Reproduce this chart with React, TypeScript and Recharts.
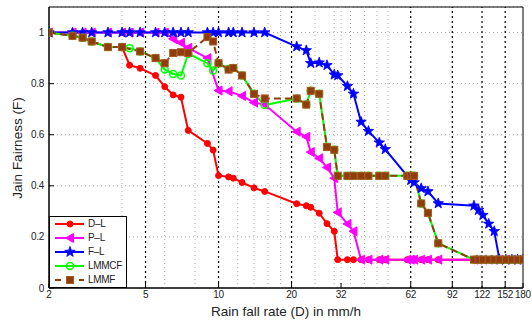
import React from "react";
import { LineChart, Line, XAxis, YAxis, CartesianGrid, ReferenceLine, ReferenceArea } from "recharts";

// rain rates (mm/h) shared by all curves
const rainRate = [
  2, 2.5, 2.75, 3, 3.5, 4, 4.3, 4.75, 5.5, 6, 6.5, 7, 7.5, 9, 9.5, 10, 11, 11.5, 12.5, 14, 15.5,
  21, 23, 24, 26, 28, 30, 31, 34, 36, 38.7, 41.5, 46, 48.7, 60, 62, 64, 68.5, 73, 80.5,
  113, 118, 123, 130, 137, 144, 153, 162, 171, 180,
];

const dlFair = [
  1, 0.987, 0.98, 0.965, 0.943, 0.943, 0.872, 0.86, 0.832, 0.788, 0.756, 0.747, 0.617, 0.566, 0.54, 0.44, 0.435, 0.43, 0.413, 0.392, 0.378,
  0.33, 0.322, 0.316, 0.293, 0.252, 0.222, 0.111, 0.111, 0.111, 0.111, 0.111, 0.111, 0.111, 0.111, 0.111, 0.111, 0.111, 0.111, 0.111,
  0.111, 0.111, 0.111, 0.111, 0.111, 0.111, 0.111, 0.111, 0.111, 0.111,
];

const plFair = [
  1, 1, 1, 1, 1, 1, 1, 1, 1, 1, 0.975, 0.96, 0.94, 0.9, null, 0.773, 0.77, null, 0.752, 0.726, 0.718,
  0.612, 0.592, 0.532, 0.508, 0.472, 0.43, 0.296, 0.251, 0.222, 0.111, 0.111, 0.111, 0.111, 0.111, 0.111, 0.111, 0.111, 0.111, 0.111,
  0.111, 0.111, 0.111, 0.111, 0.111, 0.111, 0.111, 0.111, 0.111, 0.111,
];

const flFair = [
  1, 1, 1, 1, 1, 1, 1, 1, 1, 1, 1, 1, 1, 1, 1, 1, 1, 1, 1, 1, 1,
  0.945, 0.93, 0.88, 0.882, 0.872, 0.835, 0.832, 0.79, 0.76, 0.65, 0.614, 0.569, 0.543, null, 0.422, 0.413, 0.39, 0.378, 0.331,
  0.322, 0.305, 0.285, 0.251, 0.222, 0.111, 0.111, 0.111, 0.111, 0.111,
];

const lmmcfFair = [
  1, 0.987, 0.98, 0.965, 0.943, 0.943, 0.939, 0.926, 0.9, 0.855, 0.838, 0.832, 0.917, 0.88, 0.851, 0.88, 0.857, 0.861, 0.832, 0.76, 0.716,
  0.742, 0.718, 0.772, 0.76, 0.552, 0.541, 0.439, 0.439, 0.439, 0.439, 0.439, 0.439, 0.439, 0.439, 0.439, 0.439, 0.331, 0.294, 0.175,
  0.111, 0.111, 0.111, 0.111, 0.111, 0.111, 0.111, 0.111, 0.111, 0.111,
];

const lmmfFair = [
  1, 0.987, 0.98, 0.965, 0.943, 0.943, null, 0.926, 0.9, 0.88, 0.92, 0.923, 0.92, 0.982, 0.965, 0.88, 0.855, 0.861, 0.832, 0.76, 0.742,
  0.742, 0.718, 0.772, 0.76, 0.552, 0.541, 0.439, 0.439, 0.439, 0.439, 0.439, 0.439, 0.439, 0.439, 0.439, 0.439, 0.331, 0.294, 0.175,
  0.111, 0.111, 0.111, 0.111, 0.111, 0.111, 0.111, 0.111, 0.111, 0.111,
];

const xTicks = [2, 5, 10, 20, 32, 62, 92, 122, 152, 180];
const yTicks = [0, 0.2, 0.4, 0.6, 0.8, 1];
const majorGrid = [5, 10, 20, 62, 92, 122, 152];
const minorGrid = [4, 6, 8, 12, 14, 16, 18, 25, 30, 32, 35, 40, 45, 50];

const data = rainRate.map((x, i) => ({
  x,
  dl: dlFair[i],
  pl: plFair[i],
  fl: flFair[i],
  lmmcf: lmmcfFair[i],
  lmmf: lmmfFair[i],
}));

const BROWN = "#8f3d0c";
const FONT = "'Liberation Sans', Arial, sans-serif";

function Marker({ kind, cx, cy, color }: any) {
  if (kind === "circle") return <circle cx={cx} cy={cy} r={3} fill={color} stroke={color} strokeWidth={1} />;
  if (kind === "ring") return <circle cx={cx} cy={cy} r={3.5} fill="none" stroke={color} strokeWidth={1.5} />;
  if (kind === "tri")
    return <polygon points={`${cx - 4.5},${cy} ${cx + 3.5},${cy - 4.5} ${cx + 3.5},${cy + 4.5}`} fill={color} stroke={color} strokeWidth={1} />;
  if (kind === "square")
    return <rect x={cx - 3.5} y={cy - 3.5} width={7} height={7} fill={color} stroke="#a65a22" strokeWidth={1} />;
  const pts: string[] = [];
  for (let i = 0; i < 10; i++) {
    const a = -Math.PI / 2 + (i * Math.PI) / 5;
    const rr = i % 2 === 0 ? 5.5 : 2.3;
    pts.push(`${cx + rr * Math.cos(a)},${cy + rr * Math.sin(a)}`);
  }
  return <polygon points={pts.join(" ")} fill={color} stroke={color} strokeWidth={0.8} />;
}

const series = [
  { key: "dl", name: "D\u2013L", color: "#ff0000", kind: "circle", dash: undefined },
  { key: "pl", name: "P\u2013L", color: "#ff00ff", kind: "tri", dash: undefined },
  { key: "fl", name: "F\u2013L", color: "#0000ff", kind: "star", dash: undefined },
  { key: "lmmcf", name: "LMMCF", color: "#00ff00", kind: "ring", dash: undefined },
  { key: "lmmf", name: "LMMF", color: BROWN, kind: "square", dash: "7 4" },
];

const dotFor = (s: any) => (props: any) => {
  const { cx, cy, index, payload } = props;
  if (cx == null || cy == null || payload == null || payload[s.key] == null) return <g key={`${s.key}-${index}`} />;
  return (
    <g key={`${s.key}-${index}`}>
      <Marker kind={s.kind} cx={cx} cy={cy} color={s.color} />
    </g>
  );
};

export default function App() {
  return (
    <div style={{ position: "absolute", left: 0, top: 0, width: 532, height: 320, background: "#fff", fontFamily: FONT }}>
      <LineChart width={532} height={320} data={data} margin={{ top: 7, right: 9, bottom: 0, left: 0 }}>
        <CartesianGrid vertical={false} stroke="#aaaaaa" strokeDasharray="1 3" />
        {minorGrid.map((v) => (
          <ReferenceLine key={`mi${v}`} x={v} stroke="#aaaaaa" strokeDasharray="1 3" />
        ))}
        {majorGrid.map((v) => (
          <ReferenceLine key={`ma${v}`} x={v} stroke="#000" strokeDasharray="2 3" strokeWidth={1.2} />
        ))}
        <XAxis
          dataKey="x"
          type="number"
          scale="log"
          domain={[2, 180]}
          ticks={xTicks}
          interval={0}
          allowDataOverflow
          height={32}
          stroke="#000"
          tickSize={-5}
          tickMargin={8}
          tick={{ fontSize: 10, fill: "#222", fontFamily: FONT, letterSpacing: -0.3 }}
          label={{ value: "Rain fall rate (D) in mm/h", position: "insideBottom", offset: 4, fontSize: 13.5, fill: "#222", fontFamily: FONT }}
        />
        <YAxis
          type="number"
          domain={[0, 1.1]}
          ticks={yTicks}
          interval={0}
          allowDataOverflow
          width={49}
          stroke="#000"
          tickSize={-5}
          tickMargin={10}
          tickFormatter={(v: number) => String(v)}
          tick={{ fontSize: 10, fill: "#222", fontFamily: FONT, letterSpacing: -0.3 }}
          label={{
            content: () => (
              <text x={-148} y={22} transform="rotate(-90)" textAnchor="middle" fontSize={13.5} fill="#222" fontFamily={FONT}>
                Jain Fairness (F)
              </text>
            ),
          }}
        />
        <ReferenceArea x1={2} x2={180} y1={0} y2={1.1} fill="none" stroke="#000" strokeWidth={1} ifOverflow="visible" />
        {series.map((s) => (
          <Line
            key={s.key}
            dataKey={s.key}
            name={s.name}
            stroke={s.color}
            strokeWidth={2}
            strokeDasharray={s.dash}
            connectNulls
            type="linear"
            dot={dotFor(s)}
            activeDot={false}
            isAnimationActive={false}
          />
        ))}
      </LineChart>
      <div
        style={{
          position: "absolute",
          left: 49,
          top: 216,
          width: 78,
          height: 72,
          border: "1px solid #000",
          background: "#fff",
          boxSizing: "border-box",
          overflow: "hidden",
        }}
      >
        {series.map((s) => (
          <div
            key={s.key}
            style={{ display: "flex", alignItems: "center", height: 13.9, fontSize: 10, letterSpacing: -0.3, color: "#222", lineHeight: "13.9px" }}
          >
            <svg width={38} height={14} style={{ flex: "none" }}>
              <line x1={5} y1={7} x2={34} y2={7} stroke={s.color} strokeWidth={2} strokeDasharray={s.dash ? "6 6" : undefined} />
              <Marker kind={s.kind} cx={20} cy={7} color={s.color} />
            </svg>
            <span>{s.name}</span>
          </div>
        ))}
      </div>
    </div>
  );
}
